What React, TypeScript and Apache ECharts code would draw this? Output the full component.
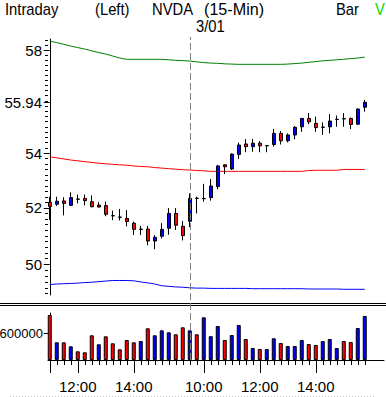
import React, { useEffect, useRef } from "react";
import * as echarts from "echarts";

// 15-minute bars: day 1 (11:00-15:45) and day 2 3/01 (9:30-15:45)
const times = [
  "11:00", "11:15", "11:30", "11:45", "12:00", "12:15", "12:30", "12:45",
  "13:00", "13:15", "13:30", "13:45", "14:00", "14:15", "14:30", "14:45",
  "15:00", "15:15", "15:30", "15:45",
  "9:30", "9:45", "10:00", "10:15", "10:30", "10:45", "11:00", "11:15",
  "11:30", "11:45", "12:00", "12:15", "12:30", "12:45", "13:00", "13:15",
  "13:30", "13:45", "14:00", "14:15", "14:30", "14:45", "15:00", "15:15",
  "15:30", "15:45",
];

const open = [52.20, 52.13, 52.25, 52.09, 52.32, 52.34, 52.22, 52.10, 52.08, 51.72, 51.67, 51.62, 51.45, 51.23, 51.24, 50.82, 50.99, 51.27, 51.80, 51.34, 51.52, 52.35, 52.33, 52.37, 52.77, 53.57, 53.42, 53.96, 54.35, 54.25, 54.38, 54.28, 54.33, 54.75, 54.47, 54.69, 55.00, 55.32, 55.13, 54.98, 55.00, 55.28, 55.31, 55.32, 55.10, 55.75];
const close = [52.05, 52.24, 52.16, 52.37, 52.31, 52.26, 52.04, 52.03, 51.77, 51.71, 51.66, 51.51, 51.23, 51.24, 50.82, 50.95, 51.23, 51.80, 51.38, 51.01, 52.34, 52.34, 52.34, 52.79, 53.53, 53.50, 53.97, 54.31, 54.25, 54.38, 54.28, 54.29, 54.75, 54.47, 54.69, 54.98, 55.32, 55.19, 54.97, 54.99, 55.22, 55.29, 55.30, 55.09, 55.68, 55.94];
const low = [51.56, 52.07, 51.73, 52.07, 52.16, 52.09, 52.02, 52.01, 51.70, 51.56, 51.55, 51.34, 51.03, 51.03, 50.67, 50.53, 50.91, 51.04, 51.21, 50.84, 51.31, 51.80, 52.22, 52.26, 52.67, 53.23, 53.38, 53.79, 54.04, 54.06, 54.04, 54.04, 54.25, 54.33, 54.41, 54.53, 54.81, 55.10, 54.81, 54.69, 54.75, 55.00, 55.00, 54.91, 55.07, 55.58];
const high = [52.40, 52.40, 52.38, 52.56, 52.48, 52.48, 52.45, 52.21, 52.23, 51.90, 51.96, 51.92, 51.51, 51.36, 51.35, 51.03, 51.45, 51.99, 51.99, 51.53, 52.52, 52.40, 52.87, 53.05, 53.57, 53.59, 54.00, 54.40, 54.54, 54.54, 54.46, 54.31, 54.92, 54.84, 54.75, 55.03, 55.34, 55.53, 55.39, 55.17, 55.49, 55.43, 55.52, 55.35, 55.71, 56.03];

const volume = [1005000, 395000, 395000, 306000, 194000, 172000, 552000, 351000, 529000, 373000, 239000, 447000, 395000, 424000, 708000, 552000, 663000, 619000, 574000, 730000, 663000, 574000, 954000, 532000, 760000, 447000, 558000, 782000, 469000, 268000, 246000, 246000, 485000, 380000, 313000, 313000, 447000, 357000, 335000, 424000, 469000, 268000, 424000, 402000, 715000, 983000];
// 1 = up (blue), 0 = down (red)
const volumeUp = [0, 1, 0, 1, 0, 0, 0, 1, 0, 0, 0, 0, 0, 1, 0, 1, 1, 1, 0, 0, 1, 0, 1, 1, 1, 0, 1, 1, 0, 1, 0, 1, 1, 0, 1, 1, 1, 0, 0, 1, 1, 1, 0, 0, 1, 1];

const upperBand = [58.36, 58.30, 58.23, 58.16, 58.10, 58.04, 57.97, 57.90, 57.84, 57.76, 57.68, 57.63, 57.63, 57.63, 57.63, 57.63, 57.63, 57.61, 57.59, 57.58, 57.56, 57.53, 57.50, 57.48, 57.47, 57.45, 57.44, 57.43, 57.43, 57.43, 57.43, 57.43, 57.43, 57.43, 57.44, 57.46, 57.48, 57.51, 57.54, 57.57, 57.59, 57.61, 57.63, 57.66, 57.68, 57.72];
const midBand = [53.87, 53.83, 53.79, 53.75, 53.72, 53.69, 53.66, 53.63, 53.61, 53.59, 53.57, 53.56, 53.53, 53.51, 53.50, 53.47, 53.45, 53.43, 53.41, 53.39, 53.38, 53.36, 53.35, 53.33, 53.33, 53.33, 53.33, 53.33, 53.33, 53.33, 53.33, 53.33, 53.33, 53.33, 53.33, 53.33, 53.33, 53.36, 53.37, 53.37, 53.37, 53.37, 53.40, 53.40, 53.40, 53.40];
const lowerBand = [49.31, 49.33, 49.34, 49.35, 49.36, 49.38, 49.39, 49.41, 49.43, 49.45, 49.45, 49.45, 49.44, 49.40, 49.37, 49.33, 49.27, 49.25, 49.23, 49.22, 49.20, 49.19, 49.19, 49.18, 49.18, 49.18, 49.18, 49.18, 49.18, 49.17, 49.17, 49.17, 49.17, 49.17, 49.17, 49.17, 49.17, 49.16, 49.16, 49.16, 49.16, 49.16, 49.15, 49.15, 49.15, 49.15];

const priceTicks = [50, 52, 54, 55.94, 58];
const priceTickLabels = ["50", "52", "54", "55.94", "58"];
const timeLabelIdx = [4, 12, 22, 30, 38];
const timeMajorTickIdx = [0, 4, 12, 22, 30, 38];
const volumeTicks = [600000];
const dayBreakIdx = 20;

const PRICE_MIN = 48.956;
const PRICE_MAX = 58.446;
const VOL_MAX = 1050000;
const X_MIN = -0.25;
const X_MAX = 47.75;

const FONT = "'Liberation Sans', Arial, sans-serif";
const AXIS_FONT_SIZE = 15;
const RED = "#ff0000";
const BLUE = "#0000ff";

export default function App() {
  const ref = useRef<HTMLDivElement>(null);

  useEffect(() => {
    if (!ref.current) return;
    const chart = echarts.init(ref.current, undefined, { renderer: "svg" });
    const ln = Math.log;
    const idx = times.map((_, i) => i);

    const minorTicks: number[] = [];
    for (let t = 490; t <= 584; t += 2) minorTicks.push(ln(t / 10));

    const priceLabel = (v: number) => {
      let best = 0;
      let bd = Infinity;
      priceTicks.forEach((t, i) => {
        const d = Math.abs(ln(t) - v);
        if (d < bd) { bd = d; best = i; }
      });
      return priceTickLabels[best];
    };

    const headText = (text: string, x: number, y: number, fill = "#000", sx = 0.87) => ({
      type: "text",
      x,
      y,
      scaleX: sx,
      silent: true,
      style: { text, font: `17px ${FONT}`, fill, align: "left", verticalAlign: "middle" },
    });

    const gridBase = { outerBoundsMode: "none", containLabel: false };

    const option: any = {
      animation: false,
      backgroundColor: "#ffffff",
      grid: [
        { ...gridBase, left: 48, top: 39, width: 336, height: 256 },
        { ...gridBase, left: 48, top: 313, width: 336, height: 47 },
        { ...gridBase, left: 48, top: 37, width: 336, height: 323 },
      ],
      xAxis: [
        { type: "value", gridIndex: 0, min: X_MIN, max: X_MAX, show: false },
        {
          type: "value", gridIndex: 1, min: X_MIN, max: X_MAX, position: "bottom",
          axisLine: { show: true, lineStyle: { color: "#000", width: 1 } },
          axisTick: { show: true, customValues: timeMajorTickIdx, length: 13, lineStyle: { color: "#000" } },
          axisLabel: {
            show: true, customValues: timeLabelIdx, margin: 19, color: "#000",
            fontSize: AXIS_FONT_SIZE, fontFamily: FONT, formatter: (v: number) => times[Math.round(v)],
          },
          splitLine: { show: false },
        },
        {
          type: "value", gridIndex: 1, min: X_MIN, max: X_MAX, position: "bottom",
          axisLine: { show: false },
          axisTick: { show: true, customValues: idx, length: 5, lineStyle: { color: "#000" } },
          axisLabel: { show: false },
          splitLine: { show: false },
        },
        { type: "value", gridIndex: 2, min: X_MIN, max: X_MAX, show: false },
      ],
      yAxis: [
        {
          type: "value", gridIndex: 0, min: ln(PRICE_MIN), max: ln(PRICE_MAX), position: "left",
          axisLine: { show: true, lineStyle: { color: "#000", width: 1 } },
          axisTick: { show: true, customValues: priceTicks.map(ln), length: 6, lineStyle: { color: "#000" } },
          axisLabel: {
            show: true, customValues: priceTicks.map(ln), margin: 6, color: "#000",
            fontSize: AXIS_FONT_SIZE, fontFamily: FONT, formatter: priceLabel,
          },
          splitLine: { show: false },
        },
        {
          type: "value", gridIndex: 0, min: ln(PRICE_MIN), max: ln(PRICE_MAX), position: "left", offset: 0,
          axisLine: { show: false },
          axisTick: { show: true, customValues: minorTicks, length: 3, lineStyle: { color: "#000" } },
          axisLabel: { show: false },
          splitLine: { show: false },
        },
        {
          type: "value", gridIndex: 1, min: 0, max: VOL_MAX, position: "left",
          axisLine: { show: true, lineStyle: { color: "#000", width: 1 } },
          axisTick: { show: true, customValues: volumeTicks, length: 6, lineStyle: { color: "#000" } },
          axisLabel: {
            show: true, customValues: volumeTicks, margin: 5, color: "#000",
            fontSize: 13, fontFamily: FONT, formatter: (v: number) => String(Math.round(v)),
          },
          splitLine: { show: false },
        },
        { type: "value", gridIndex: 2, min: 0, max: 1, show: false },
      ],
      series: [
        {
          type: "line", xAxisIndex: 3, yAxisIndex: 3, data: [[dayBreakIdx, 0.5]],
          showSymbol: false, symbol: "none", lineStyle: { width: 0 }, z: 1, silent: true,
          markLine: {
            silent: true, symbol: "none", label: { show: false },
            lineStyle: { color: "#808080", width: 1, type: [7, 3] },
            data: [{ xAxis: dayBreakIdx }],
          },
        },
        {
          type: "line", xAxisIndex: 0, yAxisIndex: 0, z: 2, symbol: "none", silent: true,
          data: upperBand.map((p, i) => [i, ln(p)]), lineStyle: { color: "#008000", width: 1 },
        },
        {
          type: "line", xAxisIndex: 0, yAxisIndex: 0, z: 2, symbol: "none", silent: true,
          data: midBand.map((p, i) => [i, ln(p)]), lineStyle: { color: RED, width: 1 },
        },
        {
          type: "line", xAxisIndex: 0, yAxisIndex: 0, z: 2, symbol: "none", silent: true,
          data: lowerBand.map((p, i) => [i, ln(p)]), lineStyle: { color: BLUE, width: 1 },
        },
        {
          type: "candlestick", xAxisIndex: 0, yAxisIndex: 0, z: 3, barWidth: 4,
          data: idx.map((i) => [i, ln(open[i]), ln(close[i]), ln(low[i]), ln(high[i])]),
          itemStyle: { color: BLUE, color0: RED, borderColor: "#000", borderColor0: "#000", borderWidth: 1 },
        },
        {
          type: "bar", xAxisIndex: 1, yAxisIndex: 2, z: 3, barWidth: 4,
          data: idx.map((i) => ({
            value: [i, volume[i]],
            itemStyle: { color: volumeUp[i] ? BLUE : RED, borderColor: "#000", borderWidth: 1 },
          })),
        },
      ],
      graphic: [
        headText("Intraday", 5, 9),
        headText("(Left)", 95, 9),
        headText("NVDA", 152, 9),
        headText("(15-Min)", 204, 9, "#000", 0.95),
        headText("Bar", 336, 9),
        headText("V", 375, 9, "#00dd00"),
        headText("3/01", 196, 26),
        { type: "line", silent: true, shape: { x1: 0, y1: 303.5, x2: 386, y2: 303.5 }, style: { stroke: "#000", lineWidth: 1 } },
        { type: "line", silent: true, shape: { x1: 0, y1: 305.5, x2: 386, y2: 305.5 }, style: { stroke: "#000", lineWidth: 1 } },
        { type: "line", silent: true, shape: { x1: 10, y1: 396.5, x2: 376, y2: 396.5 }, style: { stroke: "#c8c8c8", lineWidth: 1, lineDash: [1, 2] } },
      ],
    };

    chart.setOption(option);
    return () => chart.dispose();
  }, []);

  return (
    <div
      ref={ref}
      style={{ position: "fixed", left: 0, top: 0, width: 386, height: 397, background: "#fff" }}
    />
  );
}
